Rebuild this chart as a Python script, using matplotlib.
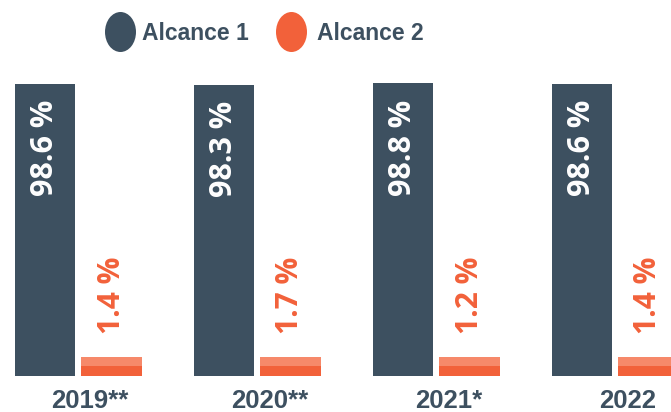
import matplotlib
matplotlib.use("Agg")
import matplotlib.pyplot as plt
import numpy as np
from matplotlib.patches import Ellipse
from matplotlib import font_manager
from matplotlib.font_manager import FontProperties

categories = ["2019**", "2020**", "2021*", "2022"]
alcance1 = [98.6, 98.3, 98.8, 98.6]
alcance2 = [1.4, 1.7, 1.2, 1.4]
series_names = ["Alcance 1", "Alcance 2"]

DARK = "#3d5060"
ORANGE = "#f2613a"
ORANGE_LIGHT = "#f6896a"

names = {f.name for f in font_manager.fontManager.ttflist}
if "Liberation Sans Narrow" in names:
    legend_fp = FontProperties(family="Liberation Sans Narrow", weight="bold", size=20)
else:
    legend_fp = FontProperties(family="Liberation Sans", weight="bold", size=16.5)

fig = plt.figure(figsize=(6.71, 4.12), dpi=100)
ax = fig.add_axes([0, 36 / 412, 1, 316 / 412])

pitch = 179.0
x = np.arange(len(categories))
d = 33.25 / pitch
w1 = 60 / pitch
w2 = 61 / pitch

ax.set_xlim(-78.25 / pitch, (671 - 78.25) / pitch)
ax.set_ylim(0, 316 / 292 * 98.6)

min_vis = 6.4
a2_disp = np.maximum(alcance2, min_vis)

ax.bar(x - d, alcance1, width=w1, color=DARK, edgecolor="none")
ax.bar(x + d, a2_disp, width=w2, color=ORANGE, edgecolor="none")
ax.bar(x + d, a2_disp * 0.45, bottom=a2_disp * 0.55, width=w2, color=ORANGE_LIGHT, edgecolor="none")

for xi, v in zip(x, alcance1):
    ax.annotate(f"{v:.1f} %", (xi - d, v), xytext=(0, -11.5), textcoords="offset points",
                rotation=90, ha="center", va="top", color="white", fontsize=22,
                fontweight="bold", family="Open Sans")
for xi, v, vd in zip(x, alcance2, a2_disp):
    ax.annotate(f"{v:.1f} %", (xi + d, vd), xytext=(0, 16.5), textcoords="offset points",
                rotation=90, ha="center", va="bottom", color=ORANGE, fontsize=21.5,
                fontweight="bold", family="Open Sans")

for s in ax.spines.values():
    s.set_visible(False)
ax.set_yticks([])
ax.set_xticks(x + 12 / pitch)
ax.set_xticklabels(categories, fontsize=18.5, fontweight="bold", color=DARK, family="Liberation Sans")
ax.tick_params(axis="x", length=0, pad=9)

# legend: ellipse markers + bold text
W, H = 671, 412
for (cx, tx), name, col in zip([(120.5, 142), (291.5, 317)], series_names, (DARK, ORANGE)):
    fig.patches.append(Ellipse((cx / W, 1 - 32 / H), 31 / W, 40 / H, transform=fig.transFigure,
                               facecolor=col, edgecolor="none"))
    fig.text(tx / W, 1 - 34 / H, name, ha="left", va="center", color=DARK,
             fontproperties=legend_fp)

fig.savefig("out.png", dpi=100)
